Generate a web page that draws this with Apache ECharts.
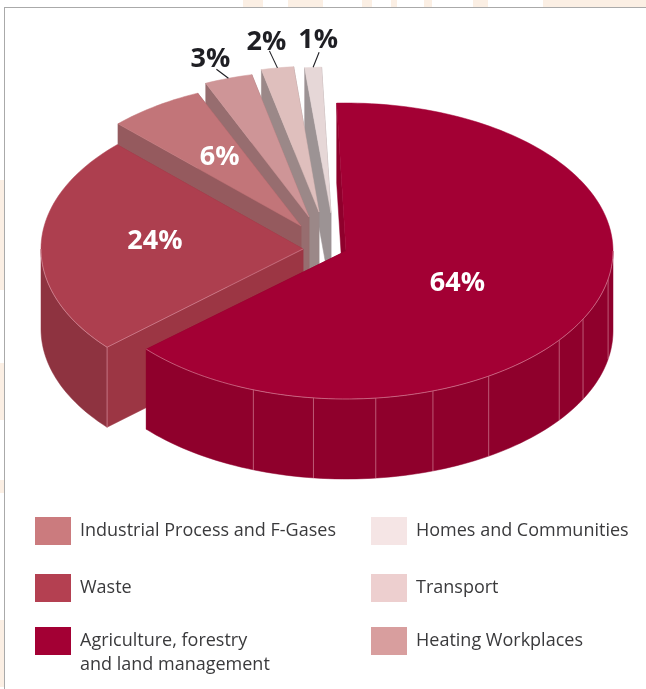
<!DOCTYPE html>
<html><head><meta charset="utf-8">
<style>html,body{margin:0;padding:0;background:#fff}#c{width:646px;height:689px}</style>
<script src="https://cdn.jsdelivr.net/npm/echarts@6/dist/echarts.min.js"></script>
</head><body><div id="c"></div>
<script>
// ---- data, in drawing order (back to front) ----
const categories = ['Homes and Communities','Transport','Heating Workplaces','Industrial Process and F-Gases','Waste','Agriculture, forestry\nand land management'];
const shareValues = [1,2,3,6,24,64];
const shareLabels = ['1%','2%','3%','6%','24%','64%'];
// big-slice wall seams, given as the angle round the pie
const seamAngles = [101,117.4,127,147.7,161,173.6,187,200.3];

// ---- layout and style ----
const lastAngle = 358;   // clockwise from 12 o'clock; back-most slice ends here
const depth = 80;
const geom = [
  {cx:331,cy:213,rx:270,ry:146},
  {cx:319,cy:212,rx:260,ry:146},
  {cx:309,cy:217,rx:258,ry:146},
  {cx:301,cy:226,rx:258,ry:145},
  {cx:303,cy:249,rx:262,ry:148},
  {cx:346,cy:251,rx:267,ry:148}
];
const topCol  = ['#e6d7d7','#dfbfbd','#ce9597','#c27579','#ad3f4f','#a30034'];
const cutCol  = ['#9c9394','#9b8888','#976d6f','#955a5e','#9c3644','#8f002c'];
const wallCol = ['#9c9394','#9b8888','#976d6f','#955a5e','#8e3340','#8f002c'];
const swatchCol = ['#f5e5e5','#edcfcf','#d89e9e','#cb7b7e','#b44051','#a30034'];
const labelCol = ['#1f1f24','#1f1f24','#1f1f24','#fff','#fff','#fff'];
const labelRule = [
  {leader:[6,-15],  dx:-1,  dy:-12},
  {leader:[-8,-17], dx:-3, dy:-9},
  {leader:[-12,-9],  dx:-6, dy:-10},
  {frac:.62, dx:9, dy:5},
  {frac:.55, dx:-4, dy:-5},
  {frac:.45, dx:1, dy:6}
];
const legendPos = [[371,517],[371,574],[371,627],[35,517],[35,574],[35,605]];
const backdropBits = [[243,0,20,7],[288,0,35,7],[362,0,10,7],[391,0,6,7],[424,0,8,7],[473,0,15,7],[543,0,103,7],
  [0,180,4,110],[0,363,4,57],[0,480,4,13],[0,620,4,67]];

// ---- pie geometry, from the values ----
const total = shareValues.reduce((a,b)=>a+b,0);
const spans = []; let acc = lastAngle;
for (let i=0;i<shareValues.length;i++){ const s = shareValues[i]/total*360; spans.push([acc-s,acc]); acc-=s; }
const pt = (g,a,dz=0,f=1)=>{const r=a*Math.PI/180;return [g.cx+f*g.rx*Math.sin(r), g.cy-f*g.ry*Math.cos(r)+dz];};
const arc = (g,a0,a1,dz=0)=>{const n=Math.max(2,Math.ceil(Math.abs(a1-a0)/1.5));const o=[];for(let k=0;k<=n;k++)o.push(pt(g,a0+(a1-a0)*k/n,dz));return o;};
const poly=(points,fill)=>({type:'polygon',shape:{points},style:{fill,stroke:fill,lineWidth:.5}});
const line=(p,q,stroke,w)=>({type:'line',shape:{x1:p[0],y1:p[1],x2:q[0],y2:q[1]},style:{stroke,lineWidth:w}});
const seamCol='rgba(232,170,185,.75)';

function renderSlice(i){
  return function(params,api){
    const g=geom[i]; const [a0,a1]=spans[i]; const kids=[];
    const A=[g.cx,g.cy],Ad=[g.cx,g.cy+depth];
    const s0=pt(g,a0),s1=pt(g,a1);
    kids.push(poly([s1,[s1[0],s1[1]+depth],Ad,A],cutCol[i]));
    const visLo=Math.max(a0,90), visHi=Math.min(a1,270);
    if(visLo<visHi){
      const top=arc(g,visLo,visHi), bot=arc(g,visLo,visHi,depth).reverse();
      kids.push(poly(top.concat(bot),wallCol[i]));
    }
    kids.push(poly([s0,[s0[0],s0[1]+depth],Ad,A],cutCol[i]));
    if(i===shareValues.length-1){
      seamAngles.forEach(a=>{const p=pt(g,a);kids.push(line(p,[p[0],p[1]+depth],seamCol,.7));});
    }
    kids.push(poly([A].concat(arc(g,a0,a1)),topCol[i]));
    if(visLo<visHi) kids.push({type:'polyline',shape:{points:arc(g,visLo,visHi)},style:{stroke:seamCol,lineWidth:.7,fill:null}});
    if(i===4) kids.push(line(s0,[s0[0],s0[1]+depth],seamCol,.7), line(s0,A,seamCol,.6));
    const mid=(a0+a1)/2, rule=labelRule[i]; let lx,ly;
    if(rule.leader){
      const p=pt(g,mid), q=[p[0]+rule.leader[0],p[1]+rule.leader[1]];
      kids.push(line(p,q,'#1f1f24',1.1));
      lx=q[0]+rule.dx; ly=q[1]+rule.dy;
    } else {
      const p=pt(g,mid,0,rule.frac); lx=p[0]+rule.dx; ly=p[1]+rule.dy;
    }
    kids.push({type:'text',style:{x:lx,y:ly,text:shareLabels[i],fill:labelCol[i],font:'700 27px "Open Sans"',align:'center',verticalAlign:'middle'}});
    return {type:'group',children:kids};
  };
}

const series = categories.map((name,i)=>({
  type:'custom',name,coordinateSystem:'none',silent:true,animation:false,
  itemStyle:{color:swatchCol[i]},
  data:[[shareValues[i]]],renderItem:renderSlice(i)
}));
const legend = categories.map((name,i)=>({
  left:legendPos[i][0],top:legendPos[i][1],data:[{name,icon:'rect',itemStyle:{color:swatchCol[i]}}],
  orient:'vertical',padding:0,itemWidth:36,itemHeight:28,itemGap:0,selectedMode:false,
  // a blank first line drops a two-line name so its first line sits level with the swatch
  formatter:n=>n.includes('\n')?'\n'+n:n,
  textStyle:{fontFamily:'Open Sans',fontSize:18,color:'#3a3a3c',lineHeight:24,padding:[0,0,0,4]}
}));
// page furniture: faint printed backdrop and the frame round the chart
const furniture = backdropBits.map(b=>({type:'rect',shape:{x:b[0],y:b[1],width:b[2],height:b[3]},style:{fill:'#fbefe4'}})).concat([
  {type:'line',shape:{x1:4,y1:7.5,x2:646,y2:7.5},style:{stroke:'#aaa',lineWidth:1}},
  {type:'line',shape:{x1:4.5,y1:7,x2:4.5,y2:689},style:{stroke:'#aaa',lineWidth:1}}
]);
const chart = echarts.init(document.getElementById('c'),null,{renderer:'canvas'});
chart.setOption({animation:false,backgroundColor:'#fff',legend,series,graphic:furniture});
</script></body></html>
